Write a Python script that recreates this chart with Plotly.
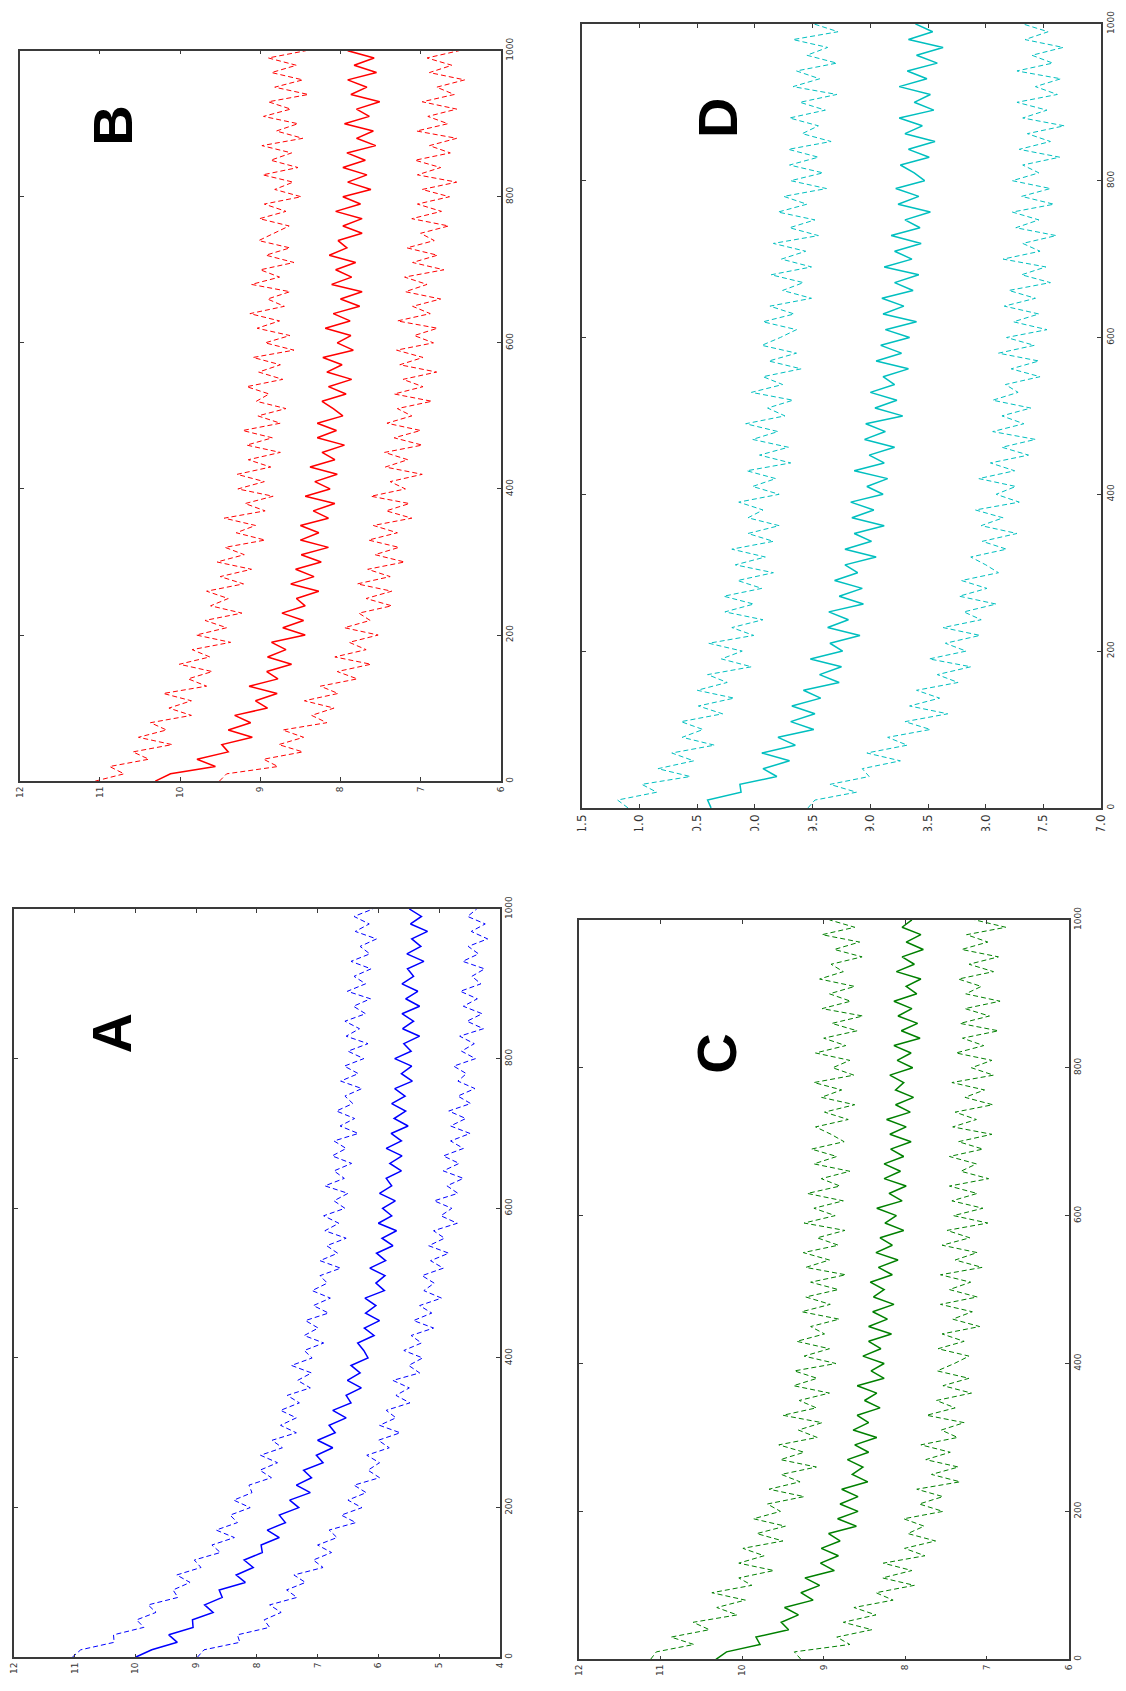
import plotly.graph_objects as go

# ---------------- data (every 10 iterations) ----------------
iterations = list(range(0, 1001, 10))

a_mean = [10.00, 9.73, 9.31, 9.45, 9.05, 9.06, 8.72, 8.86, 8.57, 8.62,
          8.19, 8.34, 8.06, 8.21, 7.91, 7.93, 7.63, 7.83, 7.53, 7.63,
          7.31, 7.46, 7.12, 7.35, 7.10, 7.23, 6.91, 7.02, 6.75, 7.00,
          6.71, 6.81, 6.53, 6.75, 6.45, 6.53, 6.28, 6.51, 6.30, 6.45,
          6.17, 6.24, 6.34, 6.07, 6.23, 5.98, 6.21, 6.04, 6.22, 5.90,
          6.04, 5.89, 6.14, 5.88, 6.03, 5.76, 5.94, 5.70, 6.00, 5.78,
          5.93, 5.72, 5.98, 5.78, 5.87, 5.62, 5.81, 5.61, 5.87, 5.62,
          5.79, 5.51, 5.74, 5.55, 5.78, 5.56, 5.73, 5.44, 5.62, 5.45,
          5.73, 5.46, 5.58, 5.32, 5.60, 5.42, 5.61, 5.32, 5.55, 5.35,
          5.61, 5.42, 5.52, 5.25, 5.53, 5.30, 5.45, 5.19, 5.47, 5.29,
          5.49]
a_upper = [11.04, 10.90, 10.35, 10.36, 9.86, 9.98, 9.66, 9.79, 9.30, 9.38,
           9.10, 9.32, 8.92, 9.03, 8.60, 8.74, 8.37, 8.67, 8.32, 8.44,
           8.11, 8.38, 8.08, 8.13, 7.76, 7.95, 7.66, 7.94, 7.58, 7.75,
           7.35, 7.61, 7.35, 7.61, 7.30, 7.50, 7.12, 7.33, 7.10, 7.43,
           7.09, 7.22, 6.90, 7.22, 6.99, 7.20, 6.82, 7.07, 6.79, 7.09,
           6.84, 6.96, 6.62, 6.96, 6.67, 6.85, 6.53, 6.88, 6.65, 6.90,
           6.55, 6.73, 6.50, 6.88, 6.56, 6.73, 6.44, 6.76, 6.53, 6.73,
           6.33, 6.63, 6.39, 6.69, 6.42, 6.55, 6.27, 6.62, 6.33, 6.56,
           6.24, 6.50, 6.17, 6.53, 6.31, 6.55, 6.21, 6.41, 6.13, 6.51,
           6.21, 6.40, 6.12, 6.45, 6.14, 6.30, 6.03, 6.38, 6.15, 6.40,
           6.09]
a_lower = [8.98, 8.87, 8.28, 8.32, 7.79, 7.88, 7.60, 7.79, 7.34, 7.51,
           7.20, 7.39, 6.91, 7.07, 6.77, 7.00, 6.68, 6.81, 6.37, 6.61,
           6.27, 6.50, 6.20, 6.40, 5.98, 6.17, 5.98, 6.19, 5.82, 6.00,
           5.64, 5.98, 5.71, 5.87, 5.48, 5.71, 5.49, 5.76, 5.32, 5.50,
           5.27, 5.58, 5.29, 5.46, 5.09, 5.42, 5.12, 5.32, 4.96, 5.25,
           5.08, 5.28, 4.93, 5.14, 4.84, 5.17, 4.91, 5.09, 4.70, 4.97,
           4.79, 5.08, 4.69, 4.87, 4.60, 4.93, 4.67, 4.93, 4.60, 4.81,
           4.49, 4.81, 4.56, 4.84, 4.48, 4.69, 4.41, 4.69, 4.55, 4.76,
           4.40, 4.63, 4.42, 4.66, 4.27, 4.54, 4.29, 4.60, 4.37, 4.65,
           4.31, 4.46, 4.25, 4.61, 4.35, 4.52, 4.20, 4.47, 4.24, 4.53,
           4.38]

b_mean = [10.31, 10.12, 9.56, 9.79, 9.40, 9.48, 9.10, 9.40, 9.12, 9.32,
          8.91, 9.06, 8.79, 9.14, 8.78, 8.92, 8.61, 8.91, 8.68, 8.86,
          8.44, 8.72, 8.46, 8.73, 8.44, 8.55, 8.27, 8.62, 8.33, 8.56,
          8.24, 8.49, 8.15, 8.50, 8.27, 8.50, 8.15, 8.34, 8.07, 8.44,
          8.13, 8.32, 8.04, 8.38, 8.07, 8.23, 7.95, 8.29, 8.05, 8.29,
          7.97, 8.09, 8.23, 7.93, 8.15, 7.86, 8.17, 7.98, 8.22, 7.84,
          8.04, 7.87, 8.19, 7.88, 8.09, 7.76, 8.00, 7.73, 8.11, 7.86,
          8.06, 7.81, 8.14, 7.92, 8.03, 7.73, 7.97, 7.73, 8.06, 7.75,
          7.97, 7.62, 7.91, 7.67, 7.97, 7.69, 7.92, 7.56, 7.80, 7.59,
          7.95, 7.64, 7.80, 7.51, 7.87, 7.67, 7.91, 7.55, 7.83, 7.58,
          7.91]
b_upper = [11.06, 10.70, 10.88, 10.39, 10.59, 10.10, 10.52, 10.17, 10.37, 9.86,
           10.14, 9.86, 10.21, 9.67, 9.90, 9.60, 10.01, 9.63, 9.85, 9.37,
           9.80, 9.42, 9.69, 9.23, 9.62, 9.40, 9.67, 9.21, 9.50, 9.11,
           9.54, 9.20, 9.44, 8.94, 9.30, 9.06, 9.45, 8.94, 9.19, 8.84,
           9.28, 8.95, 9.29, 8.87, 9.15, 8.75, 9.17, 8.85, 9.22, 8.75,
           9.03, 8.68, 9.05, 8.89, 9.17, 8.72, 9.02, 8.75, 9.09, 8.58,
           8.94, 8.63, 9.04, 8.76, 9.13, 8.70, 8.91, 8.63, 9.11, 8.76,
           9.00, 8.58, 8.93, 8.63, 9.02, 8.82, 8.64, 9.01, 8.68, 8.95,
           8.49, 8.82, 8.59, 8.97, 8.53, 8.87, 8.61, 8.98, 8.47, 8.80,
           8.53, 8.96, 8.62, 8.90, 8.40, 8.82, 8.47, 8.86, 8.55, 8.90,
           8.43]
b_lower = [9.51, 9.42, 8.78, 8.96, 8.47, 8.77, 8.46, 8.72, 8.17, 8.36,
           8.08, 8.45, 8.03, 8.25, 7.79, 8.04, 7.62, 8.07, 7.68, 7.89,
           7.53, 7.95, 7.63, 7.77, 7.36, 7.68, 7.36, 7.79, 7.38, 7.66,
           7.20, 7.57, 7.27, 7.65, 7.29, 7.59, 7.11, 7.43, 7.14, 7.62,
           7.19, 7.38, 6.98, 7.44, 7.16, 7.45, 6.98, 7.33, 7.00, 7.42,
           7.11, 7.29, 6.86, 7.33, 6.97, 7.22, 6.80, 7.26, 6.97, 7.30,
           6.84, 7.08, 6.79, 7.29, 6.88, 7.10, 6.75, 7.19, 6.92, 7.20,
           6.71, 7.10, 6.79, 7.17, 6.83, 7.00, 6.65, 7.11, 6.74, 7.04,
           6.64, 6.98, 6.55, 7.04, 6.75, 7.07, 6.63, 6.89, 6.55, 7.05,
           6.66, 6.91, 6.55, 6.98, 6.58, 6.80, 6.45, 6.89, 6.61, 6.92,
           6.52]

c_mean = [10.32, 10.19, 9.78, 9.83, 9.43, 9.52, 9.31, 9.48, 9.13, 9.28,
          9.05, 9.23, 8.87, 9.04, 8.82, 9.03, 8.80, 8.94, 8.60, 8.83,
          8.58, 8.80, 8.58, 8.78, 8.46, 8.65, 8.52, 8.71, 8.45, 8.62,
          8.35, 8.64, 8.45, 8.59, 8.31, 8.50, 8.35, 8.59, 8.26, 8.42,
          8.26, 8.52, 8.30, 8.45, 8.17, 8.45, 8.22, 8.40, 8.14, 8.39,
          8.26, 8.43, 8.16, 8.33, 8.09, 8.36, 8.16, 8.31, 8.02, 8.25,
          8.11, 8.35, 8.04, 8.20, 7.99, 8.26, 8.06, 8.26, 8.02, 8.18,
          7.93, 8.19, 7.99, 8.23, 7.94, 8.12, 7.90, 8.12, 8.02, 8.19,
          7.91, 8.10, 7.93, 8.14, 7.82, 8.05, 7.85, 8.09, 7.92, 8.14,
          7.86, 7.99, 7.81, 8.11, 7.89, 8.04, 7.78, 7.99, 7.81, 8.04,
          7.92]
c_upper = [11.12, 11.05, 10.59, 10.87, 10.40, 10.60, 10.06, 10.31, 9.96, 10.37,
           9.88, 10.04, 9.61, 10.04, 9.73, 9.99, 9.50, 9.82, 9.47, 9.86,
           9.53, 9.69, 9.24, 9.67, 9.29, 9.52, 9.09, 9.53, 9.24, 9.55,
           9.08, 9.31, 9.02, 9.50, 9.09, 9.30, 8.93, 9.37, 9.08, 9.36,
           8.85, 9.24, 8.93, 9.33, 8.99, 9.16, 8.81, 9.27, 8.92, 9.22,
           8.82, 9.16, 8.73, 9.22, 8.93, 9.25, 8.82, 9.08, 8.74, 9.24,
           8.86, 9.12, 8.76, 9.20, 8.80, 9.03, 8.68, 9.12, 8.84, 9.15,
           8.75, 8.91, 9.10, 8.70, 8.99, 8.62, 9.03, 8.78, 9.12, 8.63,
           8.89, 8.68, 9.10, 8.73, 9.00, 8.59, 8.90, 8.52, 9.02, 8.67,
           8.93, 8.62, 9.05, 8.76, 8.91, 8.53, 8.87, 8.56, 9.02, 8.62,
           8.93]
c_lower = [9.28, 9.36, 8.68, 8.84, 8.41, 8.76, 8.36, 8.63, 8.15, 8.36,
           7.89, 8.28, 7.92, 8.27, 7.76, 8.01, 7.63, 7.97, 7.77, 8.02,
           7.54, 7.83, 7.54, 7.86, 7.33, 7.68, 7.35, 7.75, 7.45, 7.81,
           7.36, 7.56, 7.28, 7.74, 7.39, 7.62, 7.19, 7.54, 7.22, 7.61,
           7.40, 7.22, 7.60, 7.28, 7.55, 7.09, 7.42, 7.18, 7.57, 7.12,
           7.46, 7.20, 7.57, 7.06, 7.39, 7.12, 7.55, 7.21, 7.49, 6.99,
           7.41, 7.05, 7.43, 7.12, 7.46, 6.98, 7.32, 7.13, 7.46, 7.05,
           7.35, 6.94, 7.42, 7.13, 7.39, 6.93, 7.27, 7.03, 7.43, 6.92,
           7.19, 6.94, 7.38, 7.04, 7.30, 6.86, 7.33, 6.97, 7.27, 6.84,
           7.26, 7.07, 7.35, 6.92, 7.22, 6.86, 7.31, 6.99, 7.25, 6.77,
           7.15]

d_mean = [10.38, 10.41, 10.12, 10.13, 9.81, 9.93, 9.70, 9.94, 9.65, 9.80,
          9.49, 9.69, 9.48, 9.68, 9.43, 9.58, 9.27, 9.44, 9.25, 9.52,
          9.24, 9.35, 9.09, 9.37, 9.19, 9.36, 9.06, 9.27, 9.07, 9.31,
          9.11, 9.22, 8.95, 9.22, 8.99, 9.14, 8.88, 9.16, 8.97, 9.17,
          8.89, 9.03, 8.85, 9.14, 8.88, 9.01, 8.79, 9.05, 8.87, 9.04,
          8.72, 8.96, 8.77, 9.00, 8.79, 8.89, 8.67, 8.95, 8.73, 8.91,
          8.66, 8.87, 8.60, 8.89, 8.71, 8.90, 8.63, 8.79, 8.58, 8.88,
          8.64, 8.79, 8.56, 8.82, 8.57, 8.70, 8.48, 8.76, 8.58, 8.78,
          8.53, 8.62, 8.74, 8.49, 8.67, 8.44, 8.70, 8.55, 8.75, 8.45,
          8.62, 8.48, 8.75, 8.51, 8.68, 8.42, 8.60, 8.37, 8.67, 8.46,
          8.61]
d_upper = [11.10, 11.19, 10.85, 10.98, 10.56, 10.84, 10.53, 10.72, 10.35, 10.63,
           10.45, 10.64, 10.28, 10.49, 10.18, 10.50, 10.24, 10.41, 10.03, 10.29,
           10.11, 10.40, 10.01, 10.20, 9.93, 10.26, 10.01, 10.27, 9.94, 10.15,
           9.84, 10.17, 9.91, 10.20, 9.84, 10.06, 9.79, 10.06, 9.93, 10.14,
           9.79, 10.02, 9.82, 10.07, 9.69, 9.96, 9.71, 10.02, 9.80, 10.08,
           9.74, 9.89, 9.67, 10.03, 9.76, 9.93, 9.60, 9.88, 9.64, 9.94,
           9.78, 9.64, 9.93, 9.66, 9.87, 9.51, 9.76, 9.58, 9.86, 9.51,
           9.77, 9.56, 9.84, 9.45, 9.70, 9.48, 9.80, 9.55, 9.75, 9.38,
           9.69, 9.41, 9.70, 9.45, 9.71, 9.34, 9.59, 9.45, 9.70, 9.39,
           9.61, 9.29, 9.67, 9.44, 9.64, 9.29, 9.55, 9.37, 9.67, 9.28,
           9.49]
d_lower = [9.54, 9.48, 9.12, 9.35, 9.01, 9.07, 8.74, 9.03, 8.68, 8.85,
           8.48, 8.70, 8.33, 8.66, 8.40, 8.60, 8.24, 8.42, 8.13, 8.49,
           8.17, 8.35, 8.05, 8.37, 8.04, 8.19, 7.91, 8.23, 7.99, 8.21,
           7.89, 8.00, 8.13, 7.82, 8.03, 7.73, 8.04, 7.85, 8.09, 7.71,
           7.91, 7.74, 8.06, 7.75, 7.96, 7.63, 7.86, 7.57, 7.94, 7.67,
           7.86, 7.61, 7.94, 7.72, 7.83, 7.53, 7.78, 7.54, 7.89, 7.58,
           7.82, 7.47, 7.76, 7.54, 7.84, 7.57, 7.80, 7.44, 7.69, 7.48,
           7.85, 7.53, 7.68, 7.39, 7.74, 7.54, 7.77, 7.41, 7.69, 7.44,
           7.77, 7.54, 7.68, 7.36, 7.71, 7.44, 7.64, 7.32, 7.68, 7.47,
           7.73, 7.38, 7.57, 7.35, 7.73, 7.42, 7.60, 7.33, 7.66, 7.46,
           7.68]

index_ticks = [0, 200, 400, 600, 800, 1000]
a_value_ticks = [12, 11, 10, 9, 8, 7, 6, 5, 4]
bc_value_ticks = [12, 11, 10, 9, 8, 7, 6]
d_value_ticks = [11.5, 11.0, 10.5, 10.0, 9.5, 9.0, 8.5, 8.0, 7.5, 7.0]
d_value_labels = ["11.5", "11.0", "10.5", "10.0", "9.5", "9.0", "8.5", "8.0", "7.5", "7.0"]
panel_letters = ["A", "B", "C", "D"]

# ---------------- layout helpers ----------------
W, H = 1126, 1691


def xdom(x0, x1):
    return [x0 / W, x1 / W]


def ydom(top, bottom):
    return [1 - bottom / H, 1 - top / H]


panels = [
    dict(letter=panel_letters[0], series=(a_mean, a_upper, a_lower), color="#0000ff",
         box=(7, 904, 499, 1659), vrange=[12, 4], vticks=a_value_ticks,
         vtext=[str(v) for v in a_value_ticks], vfont=9, letter_xy=(106, 1030)),
    dict(letter=panel_letters[1], series=(b_mean, b_upper, b_lower), color="#ff0000",
         box=(13, 38, 500, 775), vrange=[12, 6], vticks=bc_value_ticks,
         vtext=[str(v) for v in bc_value_ticks], vfont=9, letter_xy=(107, 114)),
    dict(letter=panel_letters[2], series=(c_mean, c_upper, c_lower), color="#008000",
         box=(579, 915, 1075, 1661), vrange=[12, 6], vticks=bc_value_ticks,
         vtext=[str(v) for v in bc_value_ticks], vfont=9, letter_xy=(719, 1050)),
    dict(letter=panel_letters[3], series=(d_mean, d_upper, d_lower), color="#00bfbf",
         box=(582, 11, 1108, 802), vrange=[11.5, 7.0], vticks=d_value_ticks,
         vtext=d_value_labels, vfont=12, letter_xy=(719, 106)),
]

fig = go.Figure()
layout = dict(
    width=W, height=H, margin=dict(l=0, r=0, t=0, b=0),
    paper_bgcolor="white", plot_bgcolor="white", showlegend=False,
    annotations=[], shapes=[],
)

axis_common = dict(
    showline=True, linecolor="#3a3a3a", linewidth=1.5, mirror="ticks",
    ticks="inside", ticklen=4, tickwidth=1, tickcolor="#3a3a3a",
    showgrid=False, zeroline=False, tickangle=-90, fixedrange=True,
)

for i, p in enumerate(panels, start=1):
    xa = "x" if i == 1 else f"x{i}"
    ya = "y" if i == 1 else f"y{i}"
    xkey = "xaxis" if i == 1 else f"xaxis{i}"
    ykey = "yaxis" if i == 1 else f"yaxis{i}"
    x0, top, x1, bottom = p["box"]
    mean, upper, lower = p["series"]

    for vals, dash, width in ((upper, "5px,3px", 1.0), (lower, "5px,3px", 1.0), (mean, "solid", 1.5)):
        fig.add_trace(go.Scatter(
            x=vals, y=iterations, mode="lines", xaxis=xa, yaxis=ya,
            line=dict(color=p["color"], width=width, dash=dash),
            hoverinfo="skip",
        ))

    layout[xkey] = dict(
        axis_common, domain=xdom(x0, x1), anchor=ya, range=p["vrange"],
        tickmode="array", tickvals=p["vticks"], ticktext=p["vtext"],
        tickfont=dict(family="DejaVu Sans", size=p["vfont"], color="#333333"),
        side="bottom",
    )
    layout[ykey] = dict(
        axis_common, domain=ydom(top, bottom), anchor=xa, range=[0, 1000],
        tickmode="array", tickvals=index_ticks, ticktext=[str(v) for v in index_ticks],
        tickfont=dict(family="DejaVu Sans", size=9, color="#333333"),
        side="right",
    )
    lx, ly = p["letter_xy"]
    layout["annotations"].append(dict(
        text=f"<b>{p['letter']}</b>", xref="paper", yref="paper",
        x=lx / W, y=1 - ly / H, xanchor="center", yanchor="middle",
        textangle=-90, showarrow=False,
        font=dict(family="Liberation Sans Narrow, Liberation Sans, DejaVu Sans", size=56, color="black"),
    ))

# the value labels of panel D are cut off at the bottom in the reference
layout["shapes"].append(dict(
    type="rect", xref="paper", yref="paper", layer="above",
    x0=560 / W, x1=1.0, y0=1 - 860 / H, y1=1 - 825 / H,
    fillcolor="white", line=dict(width=0),
))

fig.update_layout(**layout)
fig.write_html("out.html")
